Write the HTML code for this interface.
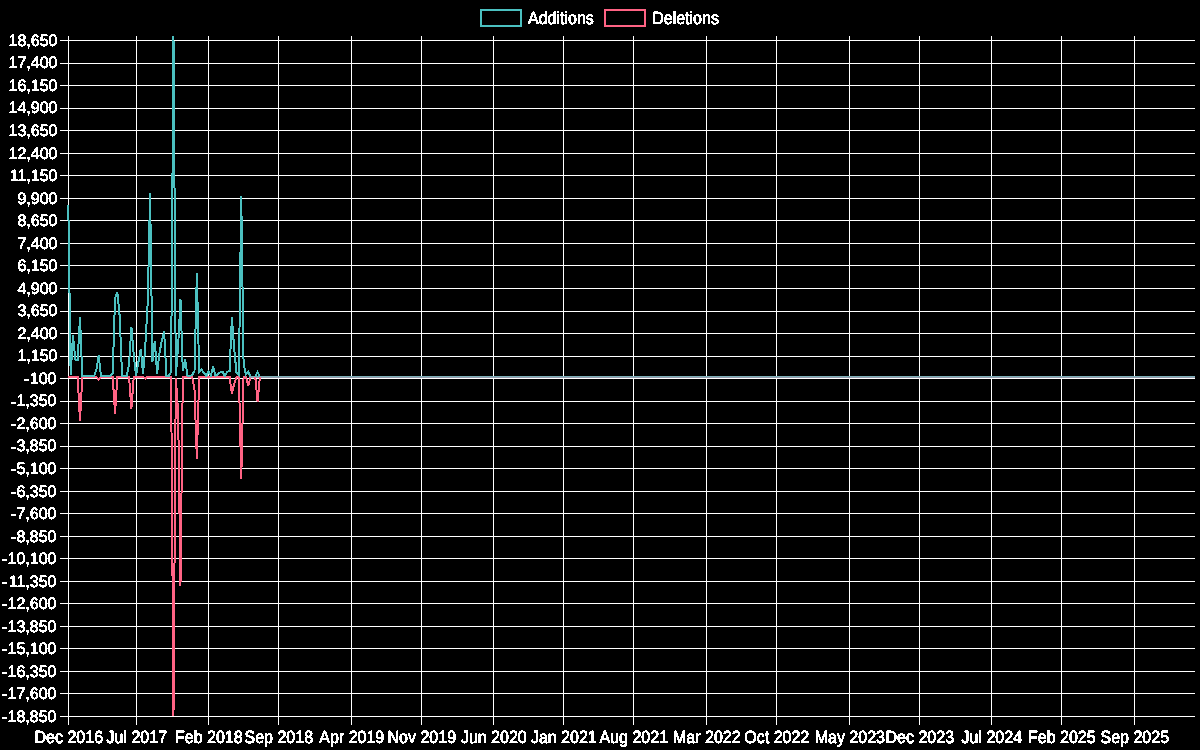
<!DOCTYPE html>
<html><head><meta charset="utf-8"><title>Additions / Deletions</title>
<style>html,body{margin:0;padding:0;background:#000;overflow:hidden}svg{display:block}text{font-family:"Liberation Sans",sans-serif}</style>
</head><body>
<svg width="1200" height="750" viewBox="0 0 1200 750">
<rect width="1200" height="750" fill="#000"/>
<g fill="#fff" shape-rendering="crispEdges">
<rect x="68" y="36" width="1" height="689"/>
<rect x="136" y="36" width="1" height="689"/>
<rect x="208" y="36" width="1" height="689"/>
<rect x="278" y="36" width="1" height="689"/>
<rect x="351" y="36" width="1" height="689"/>
<rect x="421" y="36" width="1" height="689"/>
<rect x="493" y="36" width="1" height="689"/>
<rect x="563" y="36" width="1" height="689"/>
<rect x="633" y="36" width="1" height="689"/>
<rect x="706" y="36" width="1" height="689"/>
<rect x="776" y="36" width="1" height="689"/>
<rect x="849" y="36" width="1" height="689"/>
<rect x="919" y="36" width="1" height="689"/>
<rect x="991" y="36" width="1" height="689"/>
<rect x="1061" y="36" width="1" height="689"/>
<rect x="1134" y="36" width="1" height="689"/>
<rect x="60" y="40" width="1135" height="1"/>
<rect x="60" y="63" width="1135" height="1"/>
<rect x="60" y="85" width="1135" height="1"/>
<rect x="60" y="108" width="1135" height="1"/>
<rect x="60" y="130" width="1135" height="1"/>
<rect x="60" y="153" width="1135" height="1"/>
<rect x="60" y="175" width="1135" height="1"/>
<rect x="60" y="198" width="1135" height="1"/>
<rect x="60" y="220" width="1135" height="1"/>
<rect x="60" y="243" width="1135" height="1"/>
<rect x="60" y="265" width="1135" height="1"/>
<rect x="60" y="288" width="1135" height="1"/>
<rect x="60" y="311" width="1135" height="1"/>
<rect x="60" y="333" width="1135" height="1"/>
<rect x="60" y="356" width="1135" height="1"/>
<rect x="60" y="378" width="1135" height="1"/>
<rect x="60" y="401" width="1135" height="1"/>
<rect x="60" y="423" width="1135" height="1"/>
<rect x="60" y="446" width="1135" height="1"/>
<rect x="60" y="468" width="1135" height="1"/>
<rect x="60" y="491" width="1135" height="1"/>
<rect x="60" y="513" width="1135" height="1"/>
<rect x="60" y="536" width="1135" height="1"/>
<rect x="60" y="558" width="1135" height="1"/>
<rect x="60" y="581" width="1135" height="1"/>
<rect x="60" y="603" width="1135" height="1"/>
<rect x="60" y="626" width="1135" height="1"/>
<rect x="60" y="648" width="1135" height="1"/>
<rect x="60" y="671" width="1135" height="1"/>
<rect x="60" y="693" width="1135" height="1"/>
<rect x="60" y="716" width="1135" height="1"/>
</g>
<g fill="none" stroke-width="2" stroke-linejoin="miter" shape-rendering="crispEdges">
<polyline stroke="rgb(255,99,132)" points="68.30,376.7 70.64,376.7 72.97,376.7 75.31,376.7 77.65,376.7 79.98,421.0 82.32,376.7 84.66,376.7 87.00,376.7 89.33,376.7 91.67,376.7 94.01,376.7 96.34,376.7 98.68,379.5 101.02,376.7 103.35,376.7 105.69,376.7 108.03,376.7 110.37,376.7 112.70,376.7 115.04,413.5 117.38,376.7 119.71,376.7 122.05,376.7 124.39,376.7 126.72,376.7 129.06,376.7 131.40,408.7 133.74,376.7 136.07,376.7 138.41,376.7 140.75,376.7 143.08,376.7 145.42,378.5 147.76,376.7 150.09,376.7 152.43,376.7 154.77,376.7 157.11,376.7 159.44,376.7 161.78,376.7 164.12,376.7 166.45,376.7 168.79,376.7 171.13,376.7 173.47,716.0 175.80,378.0 178.14,412.0 180.48,585.5 182.81,376.7 185.15,376.7 187.49,376.7 189.82,376.7 192.16,376.7 194.50,390.0 196.83,458.8 199.17,376.7 201.51,376.7 203.85,376.7 206.18,376.7 208.52,376.7 210.86,376.7 213.19,376.7 215.53,376.7 217.87,376.7 220.20,376.7 222.54,376.7 224.88,376.7 227.22,376.7 229.55,376.7 231.89,393.7 234.23,383.5 236.56,376.7 238.90,376.7 241.24,478.8 243.57,376.7 245.91,376.7 248.25,386.0 250.59,376.7"/>
<polyline stroke="rgb(75,192,192)" points="68.30,205.0 70.64,375.0 72.97,335.0 75.31,359.5 77.65,360.0 79.98,317.0 82.32,376.0 84.66,375.5 87.00,376.0 89.33,376.0 91.67,376.0 94.01,376.0 96.34,370.0 98.68,355.5 101.02,376.0 103.35,376.0 105.69,376.0 108.03,376.0 110.37,376.0 112.70,373.0 115.04,298.0 117.38,292.5 119.71,316.5 122.05,376.0 124.39,376.0 126.72,376.0 129.06,364.0 131.40,327.0 133.74,355.0 136.07,376.0 138.41,362.0 140.75,349.0 143.08,374.0 145.42,344.0 147.76,302.0 150.09,193.0 152.43,362.0 154.77,340.7 157.11,374.0 159.44,353.0 161.78,341.0 164.12,331.0 166.45,376.0 168.79,376.0 171.13,372.0 173.47,36.0 175.80,376.0 178.14,346.0 180.48,299.3 182.81,371.0 185.15,359.5 187.49,376.0 189.82,376.0 192.16,375.0 194.50,371.0 196.83,273.0 199.17,372.0 201.51,369.5 203.85,373.0 206.18,376.0 208.52,371.7 210.86,375.5 213.19,366.3 215.53,376.0 217.87,374.0 220.20,372.5 222.54,371.7 224.88,376.0 227.22,371.7 229.55,371.3 231.89,317.3 234.23,349.3 236.56,373.0 238.90,375.0 241.24,196.0 243.57,363.0 245.91,374.5 248.25,371.7 250.59,376.5"/>
</g>
<g shape-rendering="crispEdges"><rect x="250" y="376" width="945" height="1" fill="rgb(125,175,183)"/><rect x="250" y="377" width="945" height="1" fill="rgb(147,155,173)"/></g>
<g fill="none" stroke-width="2" stroke-linejoin="miter" shape-rendering="crispEdges">
<polyline stroke="rgb(255,99,132)" points="255.26,376.7 257.60,402.0 259.93,376.7"/>
<polyline stroke="rgb(75,192,192)" points="255.26,376.7 257.60,372.0 259.93,376.7"/>
</g>
<g fill="none" stroke-width="2" shape-rendering="crispEdges"><rect x="481" y="10" width="40" height="16" stroke="rgb(75,192,192)"/><rect x="605" y="10" width="40" height="16" stroke="rgb(255,99,132)"/></g>
<defs><filter id="t" x="0" y="0" width="1200" height="750" filterUnits="userSpaceOnUse" color-interpolation-filters="sRGB"><feComponentTransfer><feFuncA type="discrete" tableValues="0 0 1 1"/></feComponentTransfer></filter></defs>
<g filter="url(#t)"><g id="tx" text-rendering="geometricPrecision" font-family="Liberation Sans, sans-serif" font-size="16" fill="#fff" stroke="#fff" stroke-linejoin="round" stroke-width="0.65">
<text transform="translate(528.00,24.00) scale(1,1.1)">Additions</text><text transform="translate(652.20,24.00) scale(1,1.1)">Deletions</text>
<g text-anchor="end">
<text transform="translate(57.50,45.88) scale(1,1.02)">18,650</text>
<text transform="translate(57.50,68.41) scale(1,1.02)">17,400</text>
<text transform="translate(57.50,90.94) scale(1,1.02)">16,150</text>
<text transform="translate(57.50,113.47) scale(1,1.02)">14,900</text>
<text transform="translate(57.50,136.01) scale(1,1.02)">13,650</text>
<text transform="translate(57.50,158.54) scale(1,1.02)">12,400</text>
<text transform="translate(57.50,181.07) scale(1,1.02)">11,150</text>
<text transform="translate(57.50,203.61) scale(1,1.02)">9,900</text>
<text transform="translate(57.50,226.14) scale(1,1.02)">8,650</text>
<text transform="translate(57.50,248.67) scale(1,1.02)">7,400</text>
<text transform="translate(57.50,271.21) scale(1,1.02)">6,150</text>
<text transform="translate(57.50,293.74) scale(1,1.02)">4,900</text>
<text transform="translate(57.50,316.27) scale(1,1.02)">3,650</text>
<text transform="translate(57.50,338.81) scale(1,1.02)">2,400</text>
<text transform="translate(57.50,361.34) scale(1,1.02)">1,150</text>
<text transform="translate(56.50,383.87) scale(1,1.02)">100</text>
<text transform="translate(56.50,406.41) scale(1,1.02)">1,350</text>
<text transform="translate(56.50,428.94) scale(1,1.02)">2,600</text>
<text transform="translate(56.50,451.47) scale(1,1.02)">3,850</text>
<text transform="translate(56.50,474.01) scale(1,1.02)">5,100</text>
<text transform="translate(56.50,496.54) scale(1,1.02)">6,350</text>
<text transform="translate(56.50,519.07) scale(1,1.02)">7,600</text>
<text transform="translate(56.50,541.61) scale(1,1.02)">8,850</text>
<text transform="translate(56.50,564.14) scale(1,1.02)">10,100</text>
<text transform="translate(56.50,586.67) scale(1,1.02)">11,350</text>
<text transform="translate(56.50,609.21) scale(1,1.02)">12,600</text>
<text transform="translate(56.50,631.74) scale(1,1.02)">13,850</text>
<text transform="translate(56.50,654.27) scale(1,1.02)">15,100</text>
<text transform="translate(56.50,676.81) scale(1,1.02)">16,350</text>
<text transform="translate(56.50,699.34) scale(1,1.02)">17,600</text>
<text transform="translate(56.50,721.87) scale(1,1.02)">18,850</text>
</g><g text-anchor="middle">
<text transform="translate(68.80,743.00) scale(1,1.1)">Dec 2016</text>
<text transform="translate(136.80,743.00) scale(1,1.1)">Jul 2017</text>
<text transform="translate(208.80,743.00) scale(1,1.1)">Feb 2018</text>
<text transform="translate(278.80,743.00) scale(1,1.1)">Sep 2018</text>
<text transform="translate(351.80,743.00) scale(1,1.1)">Apr 2019</text>
<text transform="translate(421.80,743.00) scale(1,1.1)">Nov 2019</text>
<text transform="translate(493.80,743.00) scale(1,1.1)">Jun 2020</text>
<text transform="translate(563.80,743.00) scale(1,1.1)">Jan 2021</text>
<text transform="translate(633.80,743.00) scale(1,1.1)">Aug 2021</text>
<text transform="translate(706.80,743.00) scale(1,1.1)">Mar 2022</text>
<text transform="translate(776.80,743.00) scale(1,1.1)">Oct 2022</text>
<text transform="translate(849.80,743.00) scale(1,1.1)">May 2023</text>
<text transform="translate(919.80,743.00) scale(1,1.1)">Dec 2023</text>
<text transform="translate(991.80,743.00) scale(1,1.1)">Jul 2024</text>
<text transform="translate(1061.80,743.00) scale(1,1.1)">Feb 2025</text>
<text transform="translate(1134.80,743.00) scale(1,1.1)">Sep 2025</text>
</g></g></g>
<g fill="#fff" shape-rendering="crispEdges"><rect x="24" y="379" width="5" height="2"/><rect x="11" y="402" width="5" height="2"/><rect x="11" y="424" width="5" height="2"/><rect x="11" y="447" width="5" height="2"/><rect x="11" y="469" width="5" height="2"/><rect x="11" y="492" width="5" height="2"/><rect x="11" y="514" width="5" height="2"/><rect x="11" y="537" width="5" height="2"/><rect x="2" y="559" width="5" height="2"/><rect x="2" y="582" width="5" height="2"/><rect x="2" y="604" width="5" height="2"/><rect x="2" y="627" width="5" height="2"/><rect x="2" y="649" width="5" height="2"/><rect x="2" y="672" width="5" height="2"/><rect x="2" y="694" width="5" height="2"/><rect x="2" y="717" width="5" height="2"/></g></svg>
</body></html>
